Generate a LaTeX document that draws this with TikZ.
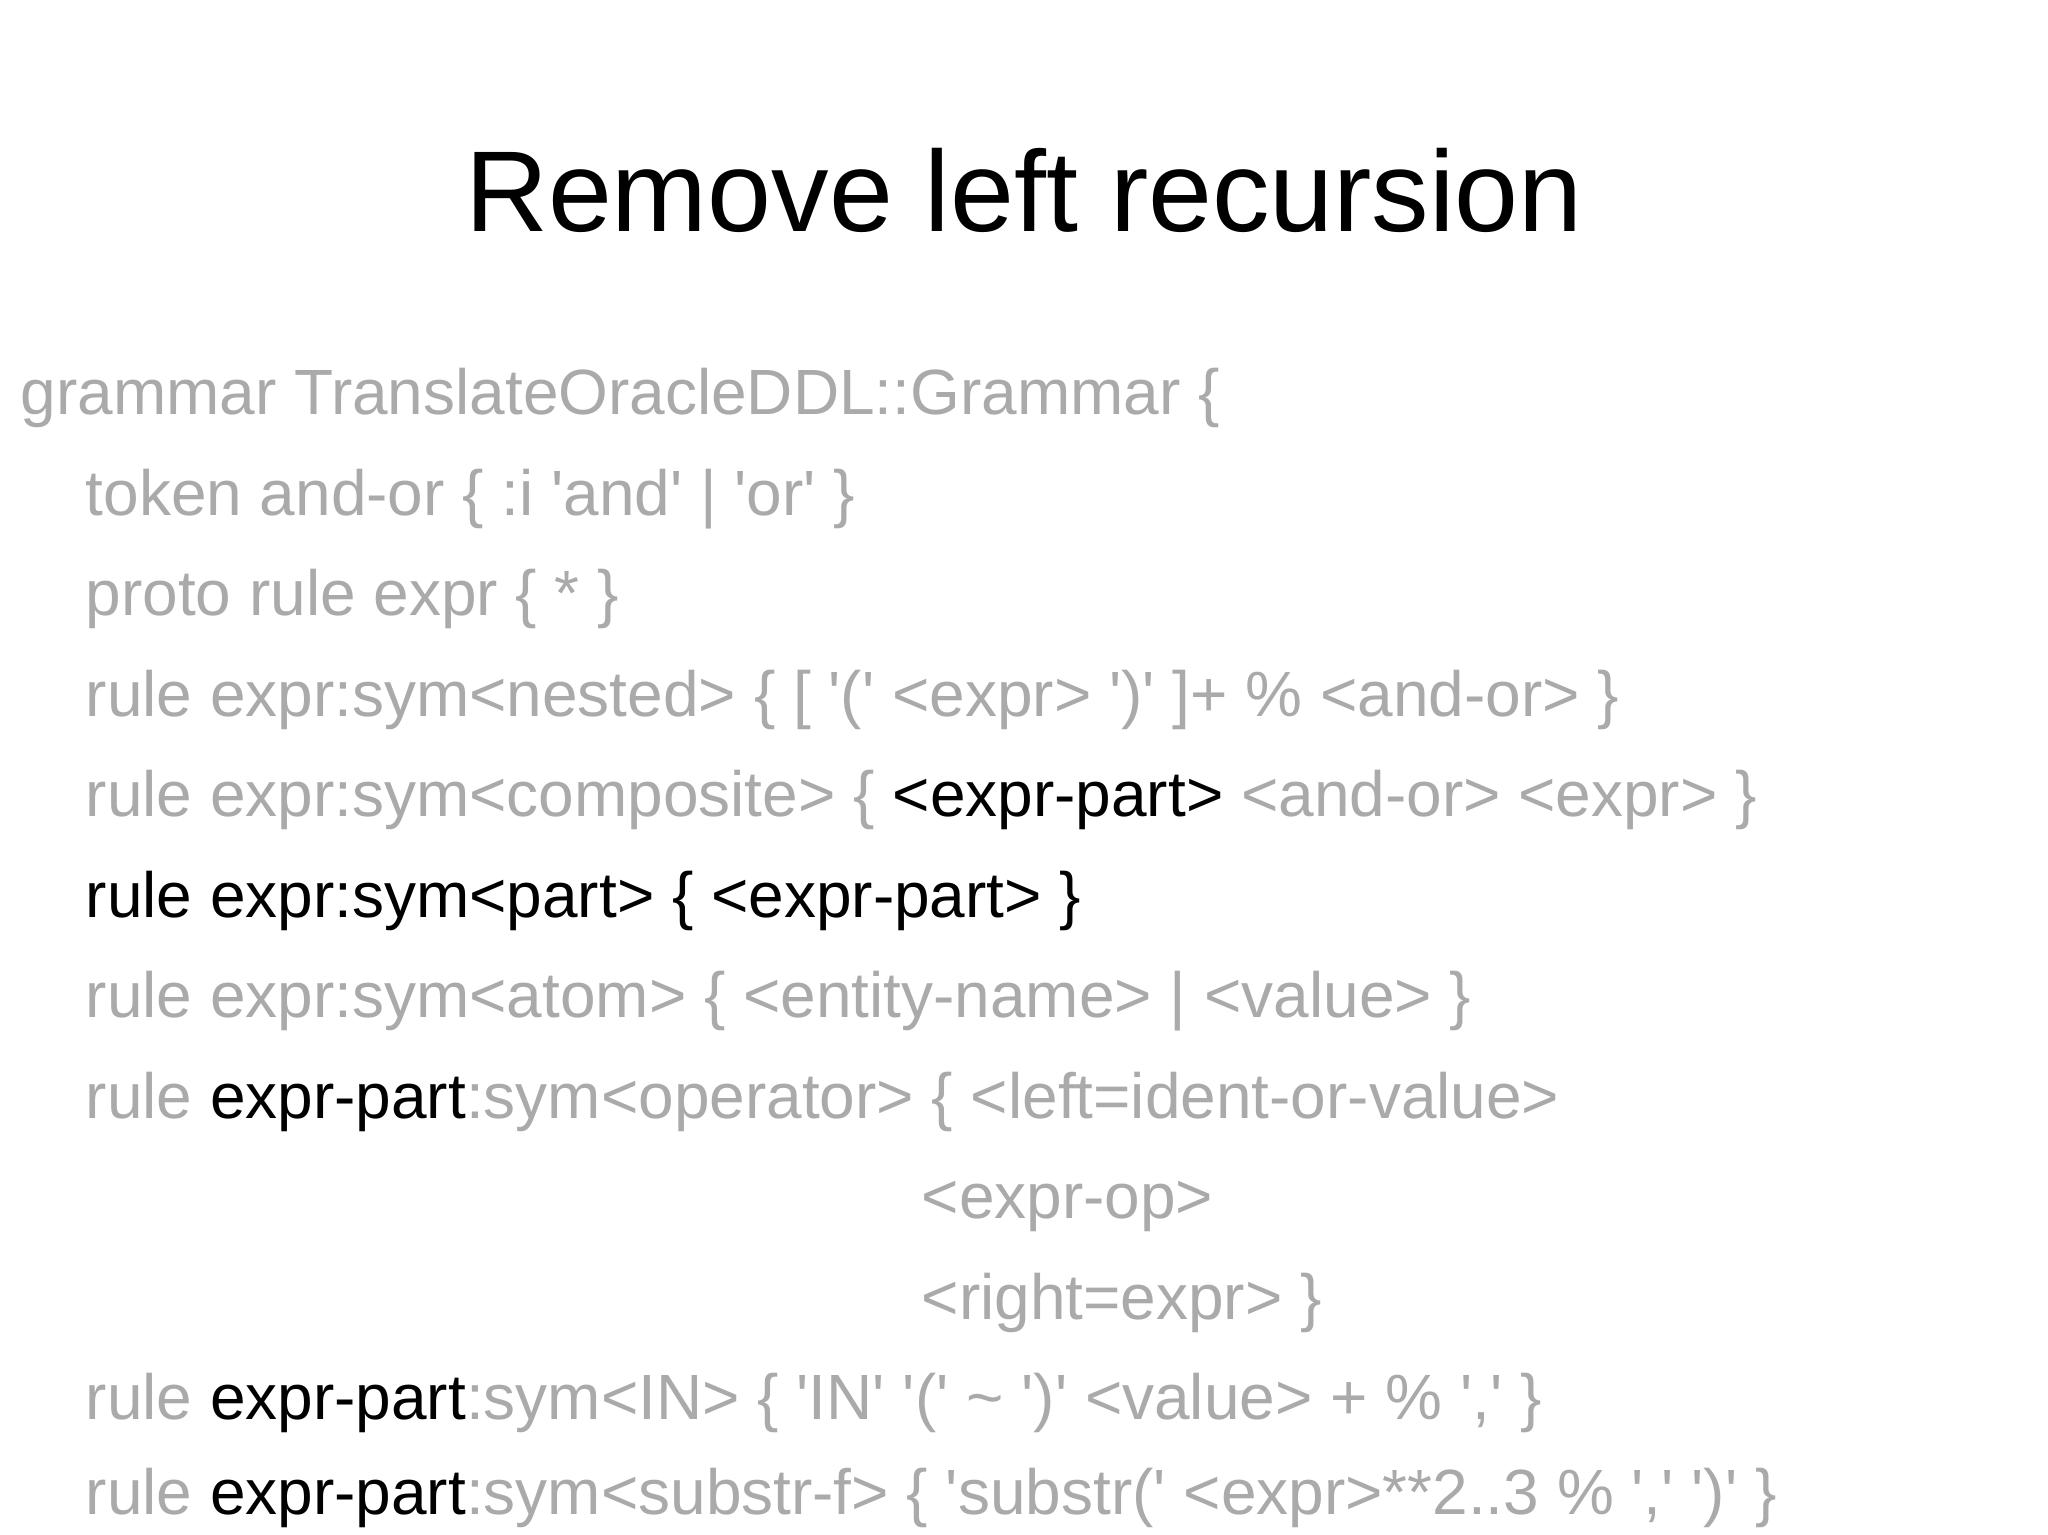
\documentclass[tikz,border=0pt]{standalone}
\usepackage{fontspec}
\setmainfont{Liberation Sans}
\definecolor{lg}{RGB}{170,170,170}
\newcommand{\sq}{\textquotesingle}
\newcommand{\bk}[1]{{\color{black}#1}}
\begin{document}
\begin{tikzpicture}[x=1cm,y=1cm,
  ln/.style={anchor=base west,inner sep=0pt,text=lg,font=\fontsize{18.2pt}{22pt}\selectfont}]
\useasboundingbox (0,0) rectangle (20.48,15.35);
\node[anchor=base,inner sep=0pt,font=\fontsize{32.7pt}{38pt}\selectfont] (title) at (10.24,13.03) {Remove left recursion};
\node[ln] (l1) at (0.20,11.20) {grammar TranslateOracleDDL::Grammar \{};
\node[ln] (l2) at (0.85,10.19) {token and-or \{ :i \sq and\sq{} | \sq or\sq{} \}};
\node[ln] (l3) at (0.85,9.19) {proto rule expr \{ * \}};
\node[ln] (l4) at (0.85,8.18) {rule expr:sym<nested> \{ [ \sq(\sq{} <expr> \sq)\sq{} ]+ \% <and-or> \}};
\node[ln] (l5) at (0.85,7.18) {rule expr:sym<composite> \{ \bk{<expr-part>} <and-or> <expr> \}};
\node[ln,text=black] (l6) at (0.85,6.17) {rule expr:sym<part> \{ <expr-part> \}};
\node[ln] (l7) at (0.85,5.17) {rule expr:sym<atom> \{ <entity-name> | <value> \}};
\node[ln] (l8) at (0.85,4.16) {rule \bk{expr-part}:sym<operator> \{ <left=ident-or-value>};
\node[ln] (l9) at (9.21,3.16) {<expr-op>};
\node[ln] (l10) at (9.21,2.15) {<right=expr> \}};
\node[ln] (l11) at (0.85,1.15) {rule \bk{expr-part}:sym<IN> \{ \sq IN\sq{} \sq(\sq{} \textasciitilde{} \sq)\sq{} <value> + \% \sq,\sq{} \}};
\node[ln] (l12) at (0.85,0.20) {rule \bk{expr-part}:sym<substr-f> \{ \sq substr(\sq{} <expr>**2..3 \% \sq,\sq{} \sq)\sq{} \}};
\end{tikzpicture}
\end{document}
